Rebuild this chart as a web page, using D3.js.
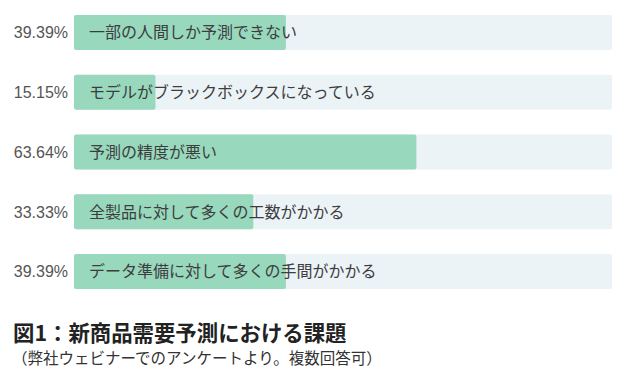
<!DOCTYPE html>
<html>
<head>
<meta charset="utf-8">
<script src="https://cdn.jsdelivr.net/npm/d3@7"></script>
<style>
  body { margin: 0; background: #fff; }
  svg { display: block; font-family: "Noto Sans CJK JP", "Noto Sans", sans-serif; }
</style>
</head>
<body>
<div class="container"></div>
<script>
const categories = [
  '一部の人間しか予測できない',
  'モデルがブラックボックスになっている',
  '予測の精度が悪い',
  '全製品に対して多くの工数がかかる',
  'データ準備に対して多くの手間がかかる'
];
const values = [39.39, 15.15, 63.64, 33.33, 39.39];
const title = '図1：新商品需要予測における課題';
const subtitle = '（弊社ウェビナーでのアンケートより。複数回答可）';

const width = 640;
const height = 382;

const svg = d3.select('.container').append('svg').attr('width', width).attr('height', height);

const xScale = d3.scaleLinear().domain([0, 100]).range([74, 612]);
const yScale = d3
  .scaleBand()
  .domain(categories)
  .range([15, 289])
  .paddingInner(0.415)
  .paddingOuter(0);

const rows = svg
  .append('g')
  .attr('class', 'rows')
  .selectAll('g')
  .data(categories)
  .enter()
  .append('g');

// background track
rows
  .append('rect')
  .attr('x', xScale(0))
  .attr('y', d => yScale(d))
  .attr('width', xScale(100) - xScale(0))
  .attr('height', yScale.bandwidth())
  .attr('rx', 2)
  .attr('fill', '#ecf3f7');

// value bar
rows
  .append('rect')
  .attr('x', xScale(0))
  .attr('y', d => yScale(d))
  .attr('width', (d, i) => xScale(values[i]) - xScale(0))
  .attr('height', yScale.bandwidth())
  .attr('rx', 2)
  .attr('fill', '#98d8bd');

rows
  .append('text')
  .attr('x', xScale(0) + 15)
  .attr('y', d => yScale(d) + yScale.bandwidth() / 2)
  .attr('dy', '0.36em')
  .attr('font-size', 16)
  .attr('fill', '#3d3d3d')
  .text(d => d);

rows
  .append('text')
  .attr('x', 68)
  .attr('y', d => yScale(d) + yScale.bandwidth() / 2)
  .attr('dy', '0.36em')
  .attr('text-anchor', 'end')
  .attr('font-size', 16)
  .attr('font-family', 'Liberation Sans, Arial, sans-serif')
  .attr('fill', '#555')
  .text((d, i) => values[i].toFixed(2) + '%');

svg
  .append('text')
  .attr('x', 13)
  .attr('y', 341)
  .attr('font-size', 21.4)
  .attr('font-weight', 'bold')
  .attr('fill', '#222')
  .text(title);

svg
  .append('text')
  .attr('x', 12)
  .attr('y', 364)
  .attr('font-size', 15.5)
  .attr('fill', '#333')
  .text(subtitle);
</script>
</body>
</html>
